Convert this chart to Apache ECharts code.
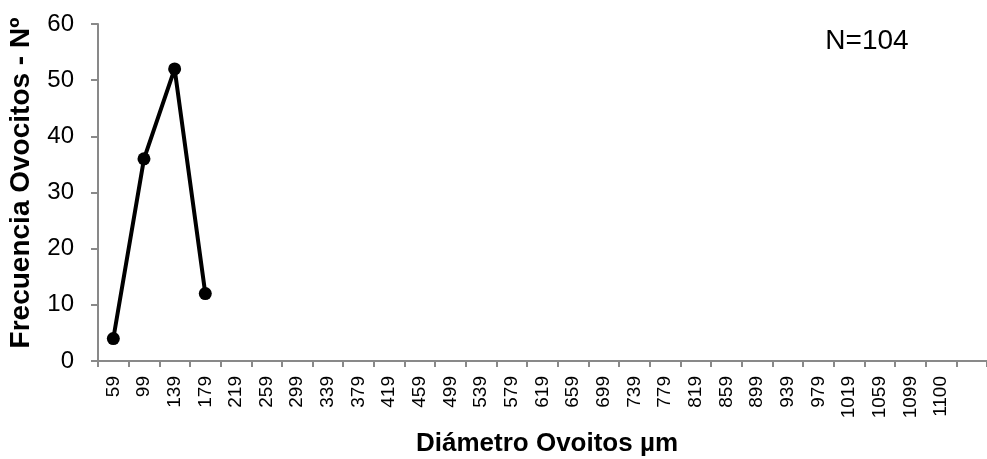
<!DOCTYPE html>
<html>
<head>
<meta charset="utf-8">
<script src="https://cdn.jsdelivr.net/npm/echarts@6/dist/echarts.min.js"></script>
<style>
  html, body { margin: 0; padding: 0; background: #fff; }
  #chart { width: 987px; height: 459px; }
</style>
</head>
<body>
<div id="chart"></div>
<script>
// Oocyte diameter classes (µm); the trailing blank slot is the open end of the axis
const diameterClasses = ['59', '99', '139', '179', '219', '259', '299', '339', '379', '419',
  '459', '499', '539', '579', '619', '659', '699', '739', '779', '819', '859', '899',
  '939', '979', '1019', '1059', '1099', '1100', ''];
// Oocyte counts per class (only the first four classes are populated)
const frequency = [4, 36, 52, 12];
const yTicks = { min: 0, max: 60, step: 10 };
const sampleNote = 'N=104';
const xTitle = 'Diámetro Ovoitos µm';
const yTitle = 'Frecuencia Ovocitos - Nº';

const font = 'Liberation Sans, Arial, sans-serif';
const chart = echarts.init(document.getElementById('chart'), null, { renderer: 'canvas' });

chart.setOption({
  animation: false,
  backgroundColor: '#ffffff',
  grid: { left: 98, right: -10, top: 24, bottom: 98, containLabel: false },
  xAxis: {
    type: 'category',
    data: diameterClasses,
    boundaryGap: true,
    axisLine: { lineStyle: { color: '#898989', width: 2 } },
    axisTick: { show: true, length: 6, alignWithLabel: false, interval: 0, lineStyle: { color: '#898989', width: 2 } },
    axisLabel: { interval: 0, rotate: 90, margin: 15, color: '#000', fontSize: 19, fontFamily: font },
    splitLine: { show: false }
  },
  yAxis: {
    type: 'value',
    min: yTicks.min,
    max: yTicks.max,
    interval: yTicks.step,
    axisLine: { show: true, lineStyle: { color: '#898989', width: 2 } },
    axisTick: { show: true, length: 7, lineStyle: { color: '#898989', width: 2 } },
    axisLabel: { margin: 24, color: '#000', fontSize: 24, fontFamily: font },
    splitLine: { show: false }
  },
  series: [{
    type: 'line',
    data: frequency,
    symbol: 'circle',
    symbolSize: 13,
    lineStyle: { color: '#000', width: 4 },
    itemStyle: { color: '#000' },
    z: 5
  }],
  graphic: [
    {
      type: 'text', x: 21, y: 183, rotation: Math.PI / 2,
      style: { text: yTitle, font: 'bold 28px ' + font, fill: '#000', align: 'center', verticalAlign: 'middle' }
    },
    {
      type: 'text', x: 547, y: 444,
      style: { text: xTitle, font: 'bold 26px ' + font, fill: '#000', align: 'center', verticalAlign: 'middle' }
    },
    {
      type: 'text', x: 867, y: 41,
      style: { text: sampleNote, font: '28px ' + font, fill: '#000', align: 'center', verticalAlign: 'middle' }
    }
  ]
});
</script>
</body>
</html>
